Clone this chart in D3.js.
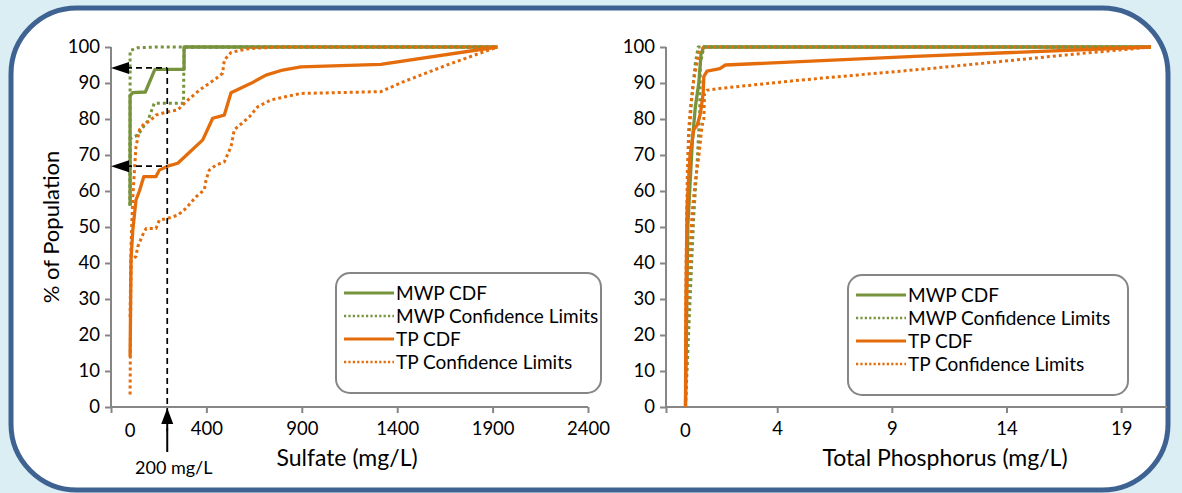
<!DOCTYPE html>
<html>
<head>
<meta charset="utf-8">
<script src="https://cdn.jsdelivr.net/npm/d3@7"></script>
<style>
  html, body { margin: 0; padding: 0; background: #dbeef4; }
  svg { display: block; font-family: Lato, "Open Sans", sans-serif; }
</style>
</head>
<body>
<svg id="chart" width="1182" height="493"></svg>
<script>
// ── Data ──────────────────────────────────────────────────────────────────────
const yTicks = [0, 10, 20, 30, 40, 50, 60, 70, 80, 90, 100];
const sulfTicks = [400, 900, 1400, 1900, 2400];
const tpTicks = [4, 9, 14, 19];

// Sulfate (mg/L), % of population
const sulfMwpCdf = [[0, 56], [0, 86.5], [14, 87.3], [80, 87.5], [130, 93.8], [283, 93.8], [283, 100], [1925, 100]];
const sulfMwpUpper = [[0, 56], [0, 99], [40, 99.8], [130, 100], [1925, 100]];
const sulfMwpLower = [[0, 56], [0, 74.5], [14, 75], [40, 75.5], [72, 78], [93, 79.5], [127, 84.4], [280, 84.4], [283, 100], [1925, 100]];
const sulfTpCdf = [[0, 14], [3, 30], [5, 41], [14, 49], [31, 57.5], [49, 60], [72, 64], [136, 64], [153, 65.8], [197, 66.9],
  [250, 67.7], [381, 74.2], [433, 80.2], [494, 81.1], [529, 87.3], [634, 89.9], [712, 92.2], [800, 93.6], [895, 94.5], [1314, 95.2], [1925, 100]];
const sulfTpUpper = [[0, 25], [5, 45], [14, 58], [23, 65.8], [31, 72.3], [49, 77], [75, 78.8], [101, 79.3], [136, 81.1], [197, 82],
  [250, 82.5], [293, 84.8], [363, 88], [450, 91.2], [485, 92.7], [494, 96.4], [529, 98.5], [607, 99.4], [634, 99.6], [790, 100], [1925, 100]];
const sulfTpLower = [[0, 3.5], [2, 20], [4, 35], [6, 40.8], [31, 41.8], [40, 44.5], [66, 47.8], [84, 49.6], [136, 49.6], [153, 51.9],
  [197, 52.4], [250, 53.3], [293, 55.2], [346, 58.4], [389, 60.3], [398, 63], [415, 65.8], [450, 67.2], [494, 68.1], [529, 72.3],
  [546, 77], [625, 80.6], [669, 83.4], [738, 85.3], [895, 87.1], [1314, 87.6], [1435, 90.4], [1681, 95.4], [1925, 100]];

// Total phosphorus (mg/L), % of population
const tpMwpCdf = [[0, 0], [0.02, 10], [0.1, 50], [0.3, 74], [0.43, 83.4], [0.58, 89.9], [0.68, 98.2], [0.8, 100], [20.3, 100]];
const tpMwpUpper = [[0, 0], [0.05, 40], [0.14, 74], [0.29, 87], [0.43, 95.5], [0.55, 100], [20.3, 100]];
const tpMwpLower = [[0, 0], [0.2, 30], [0.36, 53], [0.51, 68], [0.62, 82], [0.65, 95.5], [0.8, 100], [20.3, 100]];
const tpTpCdf = [[0, 0], [0.02, 30], [0.07, 55.6], [0.19, 69.5], [0.36, 77], [0.51, 78.3], [0.65, 81.5], [0.77, 87.1], [0.8, 91.8],
  [0.94, 93.3], [1.5, 94], [1.74, 95], [10, 97.4], [20.3, 100]];
const tpTpUpper = [[0, 0], [0.03, 40], [0.08, 65], [0.14, 77], [0.22, 83.4], [0.36, 90.8], [0.58, 98.5], [0.8, 100], [20.3, 100]];
const tpTpLower = [[0, 0], [0.03, 15], [0.07, 28], [0.29, 54], [0.43, 63], [0.58, 69.5], [0.72, 78], [0.8, 80], [0.83, 87], [0.94, 88],
  [1.5, 88.5], [5, 90.8], [10.8, 94.1], [16.6, 97.8], [20.3, 100]];

const legendLabels = ["MWP CDF", "MWP Confidence Limits", "TP CDF", "TP Confidence Limits"];

// ── Styles ────────────────────────────────────────────────────────────────────
const GREEN = "#77933c";
const ORANGE = "#e46c0a";
const AXIS = "#868686";
const DOTS = "3 3";
const TICK_FS = 18.5;

const svg = d3.select("#chart");

// Frame
svg.append("rect").attr("x", 0).attr("y", 0).attr("width", 1182).attr("height", 493).attr("fill", "#dbeef4");
svg.append("rect")
  .attr("x", 11).attr("y", 8).attr("width", 1157).attr("height", 482).attr("rx", 66).attr("ry", 66)
  .attr("fill", "#fff").attr("stroke", "#3e6392").attr("stroke-width", 5);

// ── Panel builder ─────────────────────────────────────────────────────────────
function panel(opts) {
  const x = d3.scaleLinear().domain(opts.xDomain).range([opts.left, opts.right]);
  const y = d3.scaleLinear().domain([0, 100]).range([407, 47]);
  const g = svg.append("g");

  // y axis
  g.append("g").attr("transform", `translate(${opts.left},0)`)
    .call(d3.axisLeft(y).tickValues(yTicks).tickSize(6).tickPadding(5))
    .call(a => a.select(".domain").attr("stroke", AXIS).attr("stroke-width", 2).attr("d", `M0,${y(0)}V${y(100)}`))
    .call(a => a.selectAll(".tick line").attr("stroke", AXIS).attr("stroke-width", 2))
    .call(a => a.selectAll(".tick text").attr("fill", "#000").attr("font-size", TICK_FS).attr("font-family", "Lato"));

  // x axis (plus a tick at the axis start, which has no label)
  g.append("g").attr("transform", `translate(0,${y(0)})`)
    .call(d3.axisBottom(x).tickValues([opts.xDomain[0], ...opts.ticks]).tickFormat(d => d === opts.xDomain[0] ? "" : d)
      .tickSize(6).tickPadding(9))
    .call(a => a.select(".domain").attr("stroke", AXIS).attr("stroke-width", 2).attr("d", `M${opts.left},0H${opts.right}`))
    .call(a => a.selectAll(".tick line").attr("stroke", AXIS).attr("stroke-width", 2))
    .call(a => a.selectAll(".tick text").attr("fill", "#000").attr("font-size", TICK_FS).attr("font-family", "Lato"));

  // "0" label sits at the value 0, not at the axis start
  g.append("text").attr("x", x(0)).attr("y", y(0) + 30).attr("text-anchor", "middle")
    .attr("font-size", TICK_FS).text("0");

  // x title
  g.append("text").attr("x", opts.titleX).attr("y", 466).attr("text-anchor", "middle")
    .attr("font-size", 23).text(opts.title);

  const line = d3.line().x(d => x(d[0])).y(d => y(d[1]));
  const series = [
    { data: opts.mwpCdf, color: GREEN, dash: null },
    { data: opts.mwpUpper, color: GREEN, dash: DOTS },
    { data: opts.mwpLower, color: GREEN, dash: DOTS },
    { data: opts.tpCdf, color: ORANGE, dash: null },
    { data: opts.tpUpper, color: ORANGE, dash: DOTS },
    { data: opts.tpLower, color: ORANGE, dash: DOTS },
  ];
  g.append("g").selectAll("path").data(series).join("path")
    .attr("d", s => line(s.data))
    .attr("fill", "none")
    .attr("stroke", s => s.color)
    .attr("stroke-width", s => s.dash ? 3 : 3.3)
    .attr("stroke-dasharray", s => s.dash)
    .attr("stroke-linejoin", "round");

  // legend
  const lg = svg.append("g").attr("transform", `translate(${opts.legend[0]},${opts.legend[1]})`);
  lg.append("rect").attr("x", 0).attr("y", 0).attr("width", opts.legend[2]).attr("height", 120)
    .attr("rx", 14).attr("fill", "#fff").attr("stroke", AXIS).attr("stroke-width", 2);
  const items = [
    { color: GREEN, dash: null }, { color: GREEN, dash: DOTS },
    { color: ORANGE, dash: null }, { color: ORANGE, dash: DOTS },
  ];
  const row = lg.selectAll("g.item").data(items).join("g").attr("class", "item")
    .attr("transform", (d, i) => `translate(0,${20 + i * 23})`);
  row.append("line").attr("x1", 8).attr("x2", 58).attr("y1", 0).attr("y2", 0)
    .attr("stroke", d => d.color).attr("stroke-width", d => d.dash ? 2.4 : 3)
    .attr("stroke-dasharray", d => d.dash ? "2.2 2.2" : null);
  row.append("text").attr("x", 60).attr("y", 7).attr("font-size", 19).text((d, i) => legendLabels[i]);

  return { x, y };
}

const left = panel({
  xDomain: [-100, 2400], left: 111, right: 588,
  ticks: sulfTicks,
  title: "Sulfate (mg/L)", titleX: 347,
  mwpCdf: sulfMwpCdf, mwpUpper: sulfMwpUpper, mwpLower: sulfMwpLower,
  tpCdf: sulfTpCdf, tpUpper: sulfTpUpper, tpLower: sulfTpLower,
  legend: [336, 273, 265],
});

panel({
  xDomain: [-0.85, 21], left: 666, right: 1167,
  ticks: tpTicks,
  title: "Total Phosphorus (mg/L)", titleX: 945,
  mwpCdf: tpMwpCdf, mwpUpper: tpMwpUpper, mwpLower: tpMwpLower,
  tpCdf: tpTpCdf, tpUpper: tpTpUpper, tpLower: tpTpLower,
  legend: [848, 275, 280],
});

// y title (left panel only)
svg.append("text").attr("transform", "translate(59,227) rotate(-90)").attr("text-anchor", "middle")
  .attr("font-size", 22).text("% of Population");

// ── 200 mg/L annotation ───────────────────────────────────────────────────────
const ann = svg.append("g");
const limit = 200;
const readLevels = [94.2, 66.9];
const xa = left.x(limit) - 1;
ann.append("line").attr("x1", xa).attr("x2", xa).attr("y1", left.y(readLevels[0])).attr("y2", left.y(0) + 24)
  .attr("stroke", "#000").attr("stroke-width", 1.7).attr("stroke-dasharray", "6 4");
ann.selectAll("line.h").data(readLevels).join("line").attr("class", "h")
  .attr("x1", 126).attr("x2", xa).attr("y1", d => left.y(d)).attr("y2", d => left.y(d))
  .attr("stroke", "#000").attr("stroke-width", 1.7).attr("stroke-dasharray", "6 4");
ann.selectAll("path.arrow").data(readLevels).join("path").attr("class", "arrow")
  .attr("d", d => `M111,${left.y(d)}L129,${left.y(d) - 6}L129,${left.y(d) + 6}Z`).attr("fill", "#000");
ann.append("line").attr("x1", xa).attr("x2", xa).attr("y1", 452).attr("y2", 420)
  .attr("stroke", "#000").attr("stroke-width", 2);
ann.append("path").attr("d", `M${xa},408L${xa - 6},424L${xa + 6},424Z`).attr("fill", "#000");
ann.append("text").attr("x", 135).attr("y", 474).attr("font-size", 18).text("200 mg/L");
</script>
</body>
</html>
